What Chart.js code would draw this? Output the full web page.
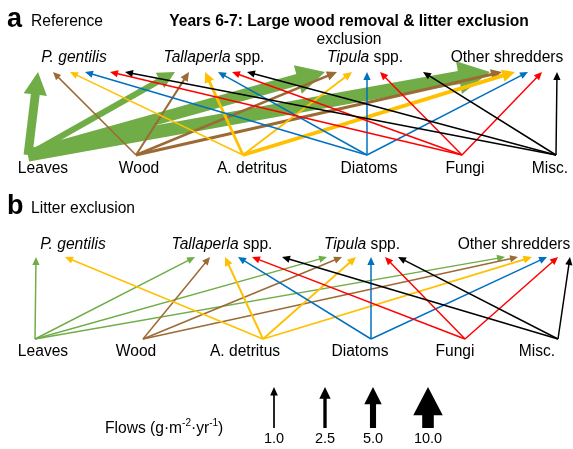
<!DOCTYPE html>
<html lang="en">
<head>
	<meta charset="UTF-8">
	<title>Shredder food web flows</title>
	<script src="https://cdn.jsdelivr.net/npm/chart.js"></script>
	<style>
		html, body { margin: 0; padding: 0; background: #fff; }
		canvas { display: block; }
	</style>
</head>
<body>
	<canvas id="web" width="573" height="449"></canvas>

	<script>
		// basal resources and consumers
		const sources = ['Leaves', 'Wood', 'A. detritus', 'Diatoms', 'Fungi', 'Misc.'];
		// [italic part, plain part]
		const consumers = [['P. gentilis', ''], ['Tallaperla', ' spp.'], ['Tipula', ' spp.'], ['', 'Other shredders']];

		// flows in g m-2 yr-1, one row per source, columns follow consumers
		const flowsReference = [
			[7.5, 5.0, 10.0, 11.5],
			[0.8, 1.3, 1.8, 2.2],
			[0.8, 2.0, 1.2, 3.0],
			[0.8, 0.8, 0.8, 0.8],
			[0.8, 0.8, 0.8, 0.8],
			[0.8, 0.8, 0.8, 0.8]
		];
		const flowsLitter = [
			[0.8, 0.8, 0.8, 0.8],
			[0.0, 0.8, 0.8, 0.8],
			[0.8, 1.2, 1.1, 1.1],
			[0.0, 0.8, 0.8, 0.8],
			[0.0, 0.8, 0.8, 0.8],
			[0.0, 0.8, 0.8, 0.8]
		];

		const legendValues = [1.0, 2.5, 5.0, 10.0];
		const legendLabels = ['1.0', '2.5', '5.0', '10.0'];

		const sourceColors = ['#70ad47', '#9c6a35', '#ffc000', '#0070c0', '#ff0000', '#000000'];
		const FONT = '"Liberation Sans", Arial, sans-serif';
		const FS = '15.6px ';

		// where things sit, in picture units (x right, y down)
		const panels = [
			{
				flows: flowsReference, letter: 'a', subtitle: 'Reference', headY: 26,
				tailY: 155, tipY: 72, consY: 62, srcY: 173,
				tailX: [28, 136, 243, 367, 462, 556],
				tipX: [
					[38, 53, 70, 85, 110, 125],
					[175, 189, 205, 218, 232, 247],
					[325, 337, 352, 367, 380, 423],
					[490, 502, 515, 528, 542, 557]
				],
				consX: [74, 214, 365, 507],
				srcX: [43, 139, 252, 369, 465, 550]
			},
			{
				flows: flowsLitter, letter: 'b', subtitle: 'Litter exclusion', headY: 213,
				tailY: 339, tipY: 257, consY: 249, srcY: 356,
				tailX: [35, 143, 263, 371, 465, 558],
				tipX: [
					[36, 50, 65, 80, 95, 110],
					[195, 210, 225, 238, 252, 282],
					[327, 342, 356, 371, 385, 398],
					[505, 518, 532, 547, 558, 570]
				],
				consX: [73, 222, 362, 514],
				srcX: [43, 136, 245, 360, 455, 537]
			}
		];

		function shaftWidth(v) { return 1.1 * v + 0.6; }

		// one filled polygon: shaft + head
		function arrow(ctx, x0, y0, x1, y1, v, color) {
			const w = shaftWidth(v);
			const hw = 4 + 2.2 * w;
			const hl = 5 + 2.0 * w;
			const dx = x1 - x0, dy = y1 - y0;
			const len = Math.hypot(dx, dy);
			const ux = dx / len, uy = dy / len;
			const nx = -uy, ny = ux;
			const bx = x1 - ux * hl, by = y1 - uy * hl;
			ctx.beginPath();
			ctx.moveTo(x0 + nx * w / 2, y0 + ny * w / 2);
			ctx.lineTo(bx + nx * w / 2, by + ny * w / 2);
			ctx.lineTo(bx + nx * hw / 2, by + ny * hw / 2);
			ctx.lineTo(x1, y1);
			ctx.lineTo(bx - nx * hw / 2, by - ny * hw / 2);
			ctx.lineTo(bx - nx * w / 2, by - ny * w / 2);
			ctx.lineTo(x0 - nx * w / 2, y0 - ny * w / 2);
			ctx.closePath();
			ctx.fillStyle = color;
			ctx.fill();
		}

		// draw a list of [text, font, dy] pieces, aligned by center or left
		function richText(ctx, parts, x, y, align) {
			let total = 0;
			parts.forEach(p => { ctx.font = p[1]; total += ctx.measureText(p[0]).width; });
			let cx = align === 'center' ? x - total / 2 : x;
			ctx.textAlign = 'left';
			ctx.textBaseline = 'alphabetic';
			parts.forEach(p => {
				ctx.font = p[1];
				ctx.fillText(p[0], cx, y + (p[2] || 0));
				cx += ctx.measureText(p[0]).width;
			});
		}

		const webPlugin = {
			id: 'web',
			afterDraw(chart) {
				const ctx = chart.ctx;
				const sx = chart.scales.x, sy = chart.scales.y;
				const X = v => sx.getPixelForValue(v);
				const Y = v => sy.getPixelForValue(v);
				ctx.save();

				// title
				ctx.fillStyle = '#000';
				ctx.textAlign = 'center';
				ctx.font = 'bold 15.6px ' + FONT;
				ctx.fillText('Years 6-7: Large wood removal & litter exclusion', X(349), Y(26));
				ctx.font = FS + FONT;
				ctx.fillText('exclusion', X(349), Y(44));

				panels.forEach(p => {
					// arrows, leaves first so the thin ones sit on top
					sources.forEach((s, i) => {
						consumers.forEach((c, j) => {
							const v = p.flows[i][j];
							if (v <= 0) return;
							arrow(ctx, X(p.tailX[i]), Y(p.tailY), X(p.tipX[j][i]), Y(p.tipY), v, sourceColors[i]);
						});
					});

					ctx.fillStyle = '#000';
					ctx.textAlign = 'left';
					ctx.font = 'bold 27px ' + FONT;
					ctx.fillText(p.letter, X(7), Y(p.headY + 1));
					ctx.font = FS + FONT;
					ctx.fillText(p.subtitle, X(31), Y(p.headY));

					consumers.forEach((c, j) => {
						richText(ctx, [[c[0], 'italic ' + FS + FONT], [c[1], FS + FONT]], X(p.consX[j]), Y(p.consY), 'center');
					});
					ctx.textAlign = 'center';
					ctx.font = FS + FONT;
					sources.forEach((s, i) => ctx.fillText(s, X(p.srcX[i]), Y(p.srcY)));
				});

				// flow legend
				const legX = [274, 325, 373, 428];
				legendValues.forEach((v, k) => {
					arrow(ctx, X(legX[k]), Y(428), X(legX[k]), Y(387), v, '#000');
					ctx.fillStyle = '#000';
					ctx.textAlign = 'center';
					ctx.font = '14.5px ' + FONT;
					ctx.fillText(legendLabels[k], X(legX[k]), Y(443));
				});
				ctx.fillStyle = '#000';
				const f = FS + FONT, sup = '10px ' + FONT;
				richText(ctx, [['Flows (g\u00b7m', f], ['-2', sup, -7], ['\u00b7yr', f], ['-1', sup, -7], [')', f]], X(105), Y(433), 'left');

				ctx.restore();
			}
		};

		new Chart(document.getElementById('web'), {
			type: 'scatter',
			data: { datasets: [{ data: [], pointRadius: 0 }] },
			options: {
				responsive: false,
				animation: false,
				events: [],
				layout: { padding: 0 },
				plugins: { legend: { display: false }, tooltip: { enabled: false } },
				scales: {
					x: { type: 'linear', min: 0, max: 573, display: false },
					y: { type: 'linear', min: 0, max: 449, reverse: true, display: false }
				}
			},
			plugins: [webPlugin]
		});
	</script>
</body>
</html>
